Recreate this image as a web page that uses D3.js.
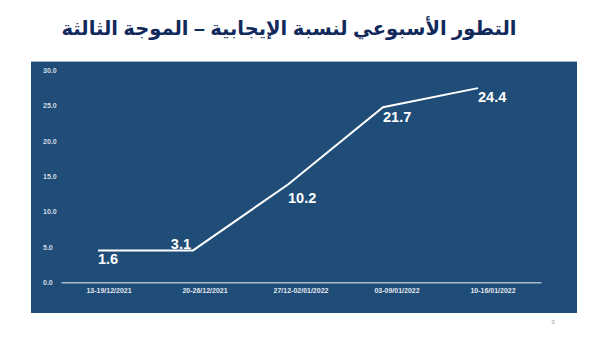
<!DOCTYPE html>
<html>
<head>
<meta charset="utf-8">
<script src="https://cdnjs.cloudflare.com/ajax/libs/d3/7.8.5/d3.min.js"></script>
<style>
  body { margin: 0; background: #ffffff; }
  svg { display: block; }
</style>
</head>
<body>
<div class="chart"></div>
<script>
/** data */
let weeks = ["13-19/12/2021", "20-26/12/2021", "27/12-02/01/2022", "03-09/01/2022", "10-16/01/2022"];
// where the white line is drawn (as plotted on the slide)
let lineValues = [4.5, 4.5, 13.8, 24.7, 27.4];
// the printed data labels
let labelValues = [1.6, 3.1, 10.2, 21.7, 24.4];
let yTicks = [0, 5, 10, 15, 20, 25, 30];

let title = "التطور الأسبوعي لنسبة الإيجابية – الموجة الثالثة";

/** canvas */
let width = 600, height = 338;
let svg = d3.select('.chart').append('svg')
    .attr('width', width)
    .attr('height', height);

/** title */
svg.append('text')
    .attr('x', 289)
    .attr('y', 35)
    .attr('text-anchor', 'middle')
    .attr('direction', 'rtl')
    .style('font-family', '"Liberation Sans", "DejaVu Sans", Arial, sans-serif')
    .style('font-weight', 'bold')
    .style('font-size', '19.5px')
    .style('fill', '#11295b')
    .text(title);

/** dark panel */
svg.append('rect')
    .attr('x', 31)
    .attr('y', 61)
    .attr('width', 546)
    .attr('height', 252)
    .attr('fill', '#1f4d78');
svg.append('line')
    .attr('x1', 31).attr('x2', 577)
    .attr('y1', 61.5).attr('y2', 61.5)
    .attr('stroke', '#9fb3c8')
    .attr('stroke-width', 1);

/** scales */
let plot = { left: 61, right: 541, top: 69.7, bottom: 282.3 };

let xBand = d3.scaleBand()
    .domain(weeks)
    .range([plot.left, plot.right]);

let xPoint = d3.scalePoint()
    .domain(weeks)
    .range([98, 478]);

let yScale = d3.scaleLinear()
    .domain([0, 30])
    .range([plot.bottom, plot.top]);

/** y axis (labels only) */
let yAxis = svg.append('g')
    .call(d3.axisLeft(yScale).tickValues(yTicks).tickSize(0).tickFormat(d3.format('.1f')));
yAxis.select('.domain').remove();
yAxis.selectAll('text')
    .attr('x', 43)
    .attr('text-anchor', 'start')
    .attr('dy', '0.35em')
    .style('font-family', '"Liberation Sans", Arial, sans-serif')
    .style('font-weight', 'bold')
    .style('font-size', '7px')
    .style('fill', '#d5dce6');

/** x axis */
let xAxis = svg.append('g')
    .attr('transform', `translate(0, ${plot.bottom})`)
    .call(d3.axisBottom(xBand).tickSize(0).tickPadding(6).tickSizeOuter(0));
xAxis.select('.domain')
    .attr('stroke', '#a9bbcf')
    .attr('stroke-width', 1.5);
xAxis.selectAll('text')
    .attr('dy', '0.71em')
    .style('font-family', '"Liberation Sans", Arial, sans-serif')
    .style('font-weight', 'bold')
    .style('font-size', '7px')
    .style('fill', '#e3e8ef');

/** line */
let line = d3.line()
    .x(function (d, i) { return xPoint(weeks[i]); })
    .y(function (d) { return yScale(d); });

svg.append('path')
    .datum(lineValues)
    .attr('d', line)
    .attr('fill', 'none')
    .attr('stroke', '#ffffff')
    .attr('stroke-width', 2);

/** data labels: the second one sits left of its point, above the flat part */
svg.selectAll('.val-label')
    .data(labelValues)
    .enter()
    .append('text')
    .attr('class', 'val-label')
    .attr('x', function (d, i) { return xPoint(weeks[i]) + (i === 1 ? -2 : 0); })
    .attr('y', function (d, i) { return yScale(d) - (i === 1 ? 11 : 7); })
    .attr('text-anchor', function (d, i) { return i === 1 ? 'end' : 'start'; })
    .style('font-family', '"Liberation Sans", Arial, sans-serif')
    .style('font-weight', 'bold')
    .style('font-size', '14.5px')
    .style('fill', '#ffffff')
    .text(function (d) { return d.toFixed(1); });

/** slide number */
svg.append('text')
    .attr('x', 553)
    .attr('y', 324)
    .attr('text-anchor', 'middle')
    .style('font-family', '"Liberation Sans", Arial, sans-serif')
    .style('font-size', '6px')
    .style('fill', '#9a9a9a')
    .text('3');
</script>
</body>
</html>
